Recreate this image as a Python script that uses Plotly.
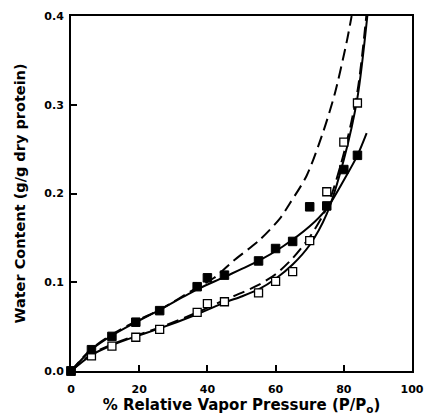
import plotly.graph_objects as go

filled_x = [0, 6, 12, 19, 26, 37, 40, 45, 55, 60, 65, 70, 75, 80, 84]
filled_y = [0, 0.024, 0.039, 0.055, 0.068, 0.095, 0.105, 0.108, 0.124, 0.138, 0.146, 0.185, 0.186, 0.227, 0.243]

open_x = [0, 6, 12, 19, 26, 37, 40, 45, 55, 60, 65, 70, 75, 80, 84]
open_y = [0, 0.017, 0.028, 0.038, 0.047, 0.066, 0.076, 0.078, 0.088, 0.101, 0.112, 0.147, 0.202, 0.258, 0.302]

# Fitted curves (traced points)
fit_filled_x = [0, 6, 12, 19, 26, 37, 45, 55, 62, 70, 75, 80, 84, 86.7]
fit_filled_y = [0, 0.024, 0.040, 0.055, 0.069, 0.092, 0.106, 0.124, 0.140, 0.163, 0.183, 0.215, 0.243, 0.268]

fit_open_x = [0, 6, 12, 19, 26, 37, 45, 50, 55, 60, 65, 70, 75, 80, 84, 86.9]
fit_open_y = [0, 0.018, 0.029, 0.039, 0.048, 0.064, 0.077, 0.084, 0.092, 0.104, 0.120, 0.142, 0.177, 0.238, 0.308, 0.4]

dash_upper_x = [0, 6, 12, 19, 26, 37, 42, 47.6, 55.4, 61.3, 64.2, 69.1, 74, 77.4, 80.8, 82.3]
dash_upper_y = [0, 0.025, 0.041, 0.056, 0.069, 0.094, 0.105, 0.124, 0.148, 0.172, 0.189, 0.220, 0.270, 0.313, 0.370, 0.4]

dash_lower_x = [0, 6, 12, 19, 26, 37, 45, 50, 55, 60, 65, 70, 75, 80, 84, 86.6]
dash_lower_y = [0, 0.019, 0.030, 0.040, 0.049, 0.066, 0.080, 0.088, 0.097, 0.109, 0.127, 0.151, 0.184, 0.245, 0.315, 0.4]

x_ticks = [0, 20, 40, 60, 80, 100]
y_ticks = [0.0, 0.1, 0.2, 0.3, 0.4]

fig = go.Figure()

fig.add_trace(go.Scatter(x=dash_upper_x, y=dash_upper_y, mode="lines",
                         line=dict(color="black", width=2, dash="12px,6px", shape="spline", smoothing=0.8)))
fig.add_trace(go.Scatter(x=dash_lower_x, y=dash_lower_y, mode="lines",
                         line=dict(color="black", width=2, dash="12px,6px", shape="spline", smoothing=0.8)))
fig.add_trace(go.Scatter(x=fit_filled_x, y=fit_filled_y, mode="lines",
                         line=dict(color="black", width=2, shape="spline", smoothing=0.8)))
fig.add_trace(go.Scatter(x=fit_open_x, y=fit_open_y, mode="lines",
                         line=dict(color="black", width=2, shape="spline", smoothing=0.8)))

fig.add_trace(go.Scatter(x=open_x, y=open_y, mode="markers", cliponaxis=False,
                         marker=dict(symbol="square", size=8, color="white",
                                     line=dict(color="black", width=1.3))))
fig.add_trace(go.Scatter(x=filled_x, y=filled_y, mode="markers", cliponaxis=False,
                         marker=dict(symbol="square", size=8.5, color="black",
                                     line=dict(color="black", width=1))))

font_family = "DejaVu Sans, Liberation Sans, sans-serif"

fig.update_layout(
    width=424, height=417,
    margin=dict(l=71, r=12, t=16, b=46),
    paper_bgcolor="white", plot_bgcolor="white",
    showlegend=False,
    font=dict(family=font_family, color="black"),
    xaxis=dict(
        range=[0, 100], tickvals=x_ticks, ticktext=[str(v) for v in x_ticks],
        ticks="inside", ticklen=6, tickwidth=1.5, tickcolor="black",
        showline=True, linecolor="black", linewidth=2, mirror=True,
        showgrid=False, zeroline=False, ticklabelstandoff=7, automargin=False,
        tickfont=dict(size=11, weight="bold", family=font_family),
        title=dict(text="% Relative Vapor Pressure (P/P<sub>o</sub>)",
                   font=dict(size=15, weight="bold", family=font_family), standoff=0),
    ),
    yaxis=dict(
        range=[0, 0.4], tickvals=y_ticks, ticktext=[f"{v:.1f}" for v in y_ticks],
        ticks="inside", ticklen=6, tickwidth=1.5, tickcolor="black",
        showline=True, linecolor="black", linewidth=2, mirror=True,
        showgrid=False, zeroline=False, ticklabelstandoff=3, automargin=False,
        tickfont=dict(size=11, weight="bold", family=font_family),
        title=dict(text="Water Content (g/g dry protein)",
                   font=dict(size=14.5, weight="bold", family=font_family), standoff=15),
    ),
)

fig.write_html("out.html")
